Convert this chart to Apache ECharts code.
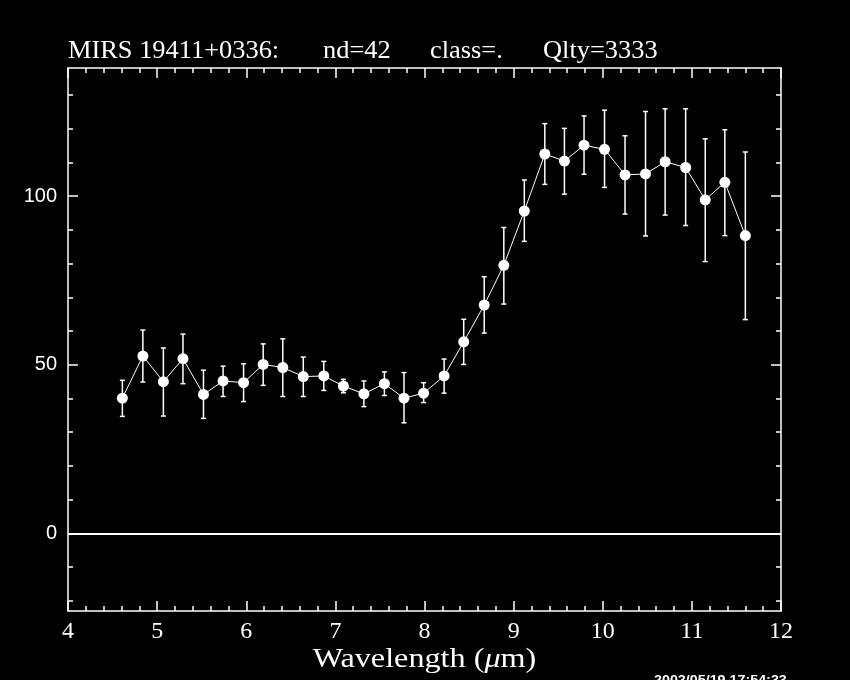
<!DOCTYPE html>
<html>
<head>
<meta charset="utf-8">
<script src="https://cdn.jsdelivr.net/npm/echarts@6/dist/echarts.min.js"></script>
<style>
html,body{margin:0;padding:0;background:#000;}
#chart{width:850px;height:680px;}
</style>
</head>
<body>
<div id="chart"></div>
<script>
// Data
var wavelength = [4.61,4.84,5.07,5.29,5.52,5.74,5.97,6.19,6.41,6.64,6.87,7.09,7.32,7.55,7.77,7.99,8.22,8.44,8.67,8.89,9.12,9.35,9.57,9.79,10.02,10.25,10.48,10.70,10.93,11.15,11.37,11.60];
var flux = [40.1,52.6,45.0,51.8,41.2,45.2,44.7,50.1,49.2,46.5,46.7,43.7,41.4,44.4,40.1,41.6,46.7,56.8,67.7,79.5,95.6,112.5,110.4,115.1,113.9,106.3,106.6,110.2,108.5,98.9,104.1,88.3];
var errUpper = [45.4,60.3,55.0,59.1,48.4,49.6,50.3,56.2,57.7,52.3,51.0,45.7,45.2,47.9,47.7,44.7,51.7,63.5,76.1,90.7,104.8,121.5,120.1,123.8,125.5,117.9,125.1,125.9,125.9,117.0,119.7,113.1];
var errLower = [34.7,44.9,34.8,44.4,34.1,40.6,39.1,43.9,40.6,40.6,42.4,41.7,37.6,40.9,32.8,38.8,41.6,50.1,59.4,68.0,86.6,103.5,100.6,106.5,102.6,94.7,88.2,94.4,91.3,80.6,88.3,63.4];
var yMajorTicks = [0, 50, 100];
var yMinorTicks = [-20,-10,10,20,30,40,60,70,80,90,110,120,130];
var titleParts = ["MIRS 19411+0336:", "nd=42", "class=.", "Qlty=3333"];
var xAxisTitle = ["Wavelength (", "\u03bc", "m)"];
var timestamp = "2002/05/19 17:54:33";

var chart = echarts.init(document.getElementById('chart'), null, {renderer:'canvas'});

var linePts = wavelength.map(function(w,i){return [w, flux[i]];});
var errPts = wavelength.map(function(w,i){return [w, flux[i], errLower[i], errUpper[i]];});

var Y_MIN = -23, Y_MAX = 138;
var serif = '"Liberation Serif","DejaVu Serif",serif';
var sans = '"Liberation Sans","DejaVu Sans",sans-serif';

function yAx(pos, ticks, len, labels, line){
  return {
    type:'value', position:pos, min:Y_MIN, max:Y_MAX,
    axisLine:{show:line, lineStyle:{color:'#fff', width:1.5}},
    axisTick:{show:true, inside:true, length:len, customValues:ticks, lineStyle:{color:'#fff', width:1.5}},
    axisLabel:labels ? {show:true, customValues:ticks, color:'#fff', fontFamily:sans, fontSize:20, margin:11} : {show:false},
    splitLine:{show:false}
  };
}
function xAx(pos, labels){
  return {
    type:'value', position:pos, min:4, max:12, interval:1,
    axisLine:{show:true, onZero:false, lineStyle:{color:'#fff', width:1.5}},
    axisTick:{show:true, inside:true, length:10, lineStyle:{color:'#fff', width:1.5}},
    minorTick:{show:true, splitNumber:5, length:5, lineStyle:{color:'#fff', width:1.5}},
    axisLabel:labels ? {show:true, color:'#fff', fontFamily:serif, fontSize:24, margin:9, showMinLabel:true, showMaxLabel:true} : {show:false},
    splitLine:{show:false}
  };
}

var titleX = [68, 323, 430, 543];
var graphics = titleParts.map(function(t,i){
  return {type:'text', x:titleX[i], y:39, scaleX:1.2, scaleY:1.12, style:{text:t, fill:'#fff', font:'22px '+serif, verticalAlign:'top'}};
});
graphics.push({
  type:'text', x:424.5, y:660, scaleX:1.15,
  style:{
    text:'{a|'+xAxisTitle[0]+'}{b|'+xAxisTitle[1]+'}{a|'+xAxisTitle[2]+'}',
    align:'center', verticalAlign:'middle',
    rich:{
      a:{fill:'#fff', fontFamily:serif, fontSize:28},
      b:{fill:'#fff', fontFamily:serif, fontSize:28, fontStyle:'italic'}
    }
  }
});
graphics.push({type:'text', x:654, y:674, scaleX:1.1, style:{text:timestamp, fill:'#fff', font:'bold 13px '+sans, verticalAlign:'top'}});

var option = {
  backgroundColor:'#000',
  animation:false,
  grid:{left:68, right:69, top:68, bottom:69, containLabel:false},
  xAxis:[xAx('bottom', true), xAx('top', false)],
  yAxis:[
    yAx('left', yMajorTicks, 10, true, true),
    yAx('left', yMinorTicks, 5, false, false),
    yAx('right', yMajorTicks, 10, false, true),
    yAx('right', yMinorTicks, 5, false, false)
  ],
  graphic:graphics,
  series:[
    {
      type:'custom', xAxisIndex:0, yAxisIndex:0, z:3,
      data:errPts,
      renderItem:function(params, api){
        var c = api.coord([api.value(0), api.value(1)]);
        var lo = api.coord([api.value(0), api.value(2)]);
        var hi = api.coord([api.value(0), api.value(3)]);
        var cw = 2.5;
        var st = {stroke:'#fff', lineWidth:1.5};
        return {type:'group', children:[
          {type:'line', shape:{x1:c[0], y1:lo[1], x2:c[0], y2:hi[1]}, style:st},
          {type:'line', shape:{x1:c[0]-cw, y1:lo[1], x2:c[0]+cw, y2:lo[1]}, style:st},
          {type:'line', shape:{x1:c[0]-cw, y1:hi[1], x2:c[0]+cw, y2:hi[1]}, style:st}
        ]};
      }
    },
    {
      type:'line', xAxisIndex:0, yAxisIndex:0, z:4,
      data:linePts,
      symbol:'circle', symbolSize:11,
      lineStyle:{color:'#fff', width:1},
      itemStyle:{color:'#fff'},
      markLine:{
        silent:true, symbol:['none','none'],
        label:{show:false},
        lineStyle:{color:'#fff', width:2, type:'solid'},
        data:[{yAxis:0}]
      }
    }
  ]
};
chart.setOption(option);
</script>
</body>
</html>
